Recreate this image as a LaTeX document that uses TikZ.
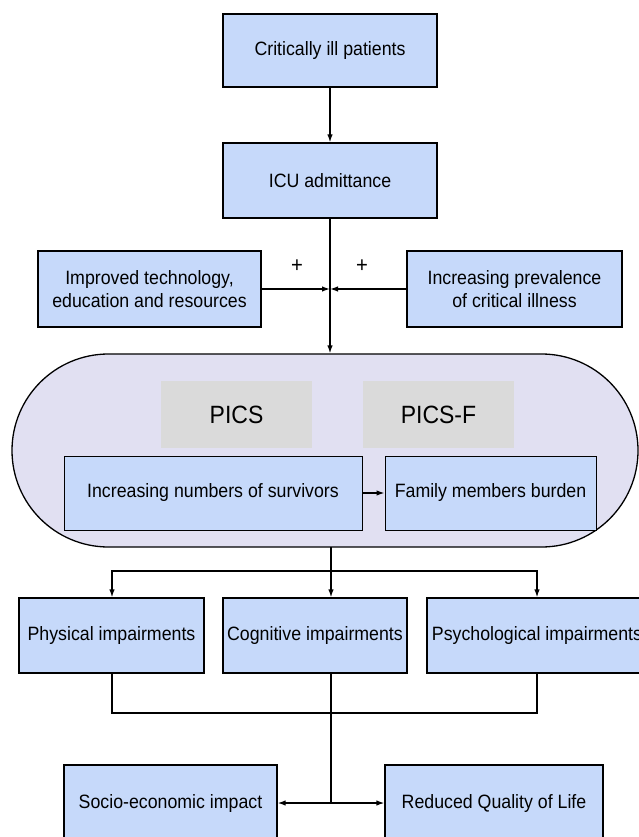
\documentclass[tikz,border=0pt]{standalone}
\usepackage{fontspec}
\setmainfont{Liberation Sans}[FakeStretch=0.92]
\usetikzlibrary{arrows.meta}
\definecolor{boxblue}{HTML}{C6D9FA}
\definecolor{contfill}{HTML}{E1E0F2}
\definecolor{graybox}{HTML}{DADADA}
\tikzset{
  box/.style={draw=black, line width=1.3pt, fill=boxblue, inner sep=0pt, align=center,
    font=\fontsize{19.3}{23}\selectfont},
  graylab/.style={fill=graybox, inner sep=0pt, font=\fontsize{25}{29}\selectfont,
    minimum width=151pt, minimum height=67pt},
  conn/.style={line width=1.3pt, draw=black},
  arr/.style={conn, -{Latex[length=8pt,width=5.5pt]}},
  plus/.style={font=\fontsize{22}{24}\selectfont, inner sep=0pt}
}
\begin{document}
\begin{tikzpicture}[x=1pt,y=-1pt]
\useasboundingbox (0,0) rectangle (639,837);
\begin{scope}
\clip (0,0) rectangle (639,837);
% top boxes
\node[box, minimum width=214pt, minimum height=73pt] (crit) at (330,50.5) {Critically ill patients};
\node[box, minimum width=214pt, minimum height=75pt] (icu) at (330,180.5) {ICU admittance};
\node[box, minimum width=223pt, minimum height=76pt] (imp) at (149.5,289) {Improved technology,\\education and resources};
\node[box, minimum width=215pt, minimum height=76pt] (prev) at (514.5,289) {Increasing prevalence\\of critical illness};
\node[plus] (p1) at (297,266) {+};
\node[plus] (p2) at (362,266) {+};
% container
\node[draw=black, line width=1.3pt, fill=contfill, rounded corners=96.5pt,
  minimum width=626pt, minimum height=193pt, inner sep=0pt] (cont) at (325,450.5) {};
\node[graylab] (pics) at (236.5,414.5) {PICS};
\node[graylab] (picsf) at (438.5,414.5) {PICS-F};
\node[box, line width=1pt, minimum width=298pt, minimum height=74pt] (surv) at (213,493) {Increasing numbers of survivors};
\node[box, line width=1pt, minimum width=211pt, minimum height=74pt] (fam) at (490.5,493) {Family members burden};
% impairments
\node[box, minimum width=185pt, minimum height=75pt] (phys) at (111.5,635.5) {Physical impairments};
\node[box, minimum width=184pt, minimum height=75pt] (cog) at (315,635.5) {Cognitive impairments};
\node[box, minimum width=220pt, minimum height=75pt] (psy) at (537,635.5) {Psychological impairments};
% outcomes
\node[box, minimum width=213pt, minimum height=76pt] (socio) at (170.5,803) {Socio-economic impact};
\node[box, minimum width=218pt, minimum height=76pt] (qol) at (494,803) {Reduced Quality of Life};
% coordinates
\coordinate (j) at (330,289);
\coordinate (cbot) at (331,547);
\coordinate (br) at (331,571);
\coordinate (bl) at (112,571);
\coordinate (brr) at (537,571);
\coordinate (mj) at (331,713);
\coordinate (oj) at (331,803);
% connectors
\draw[arr] (crit.south) -- (icu.south |- icu.north);
\draw[arr] (icu.south) -- (icu.south |- cont.north);
\draw[arr] (imp.east) -- (j);
\draw[arr] (prev.west) -- (j);
\draw[arr] (surv.east) -- (fam.west);
\draw[conn] (cbot) -- (br);
\draw[arr] (br) -- (cog.north -| br);
\draw[arr] (br) -- (bl) -- (bl |- phys.north);
\draw[arr] (br) -- (brr) -- (brr |- psy.north);
\draw[conn] (bl |- phys.south) -- (bl |- mj) -- (brr |- mj) -- (brr |- psy.south);
\draw[conn] (br |- cog.south) -- (oj);
\draw[arr] (oj) -- (socio.east);
\draw[arr] (oj) -- (qol.west);
\end{scope}
\end{tikzpicture}
\end{document}
